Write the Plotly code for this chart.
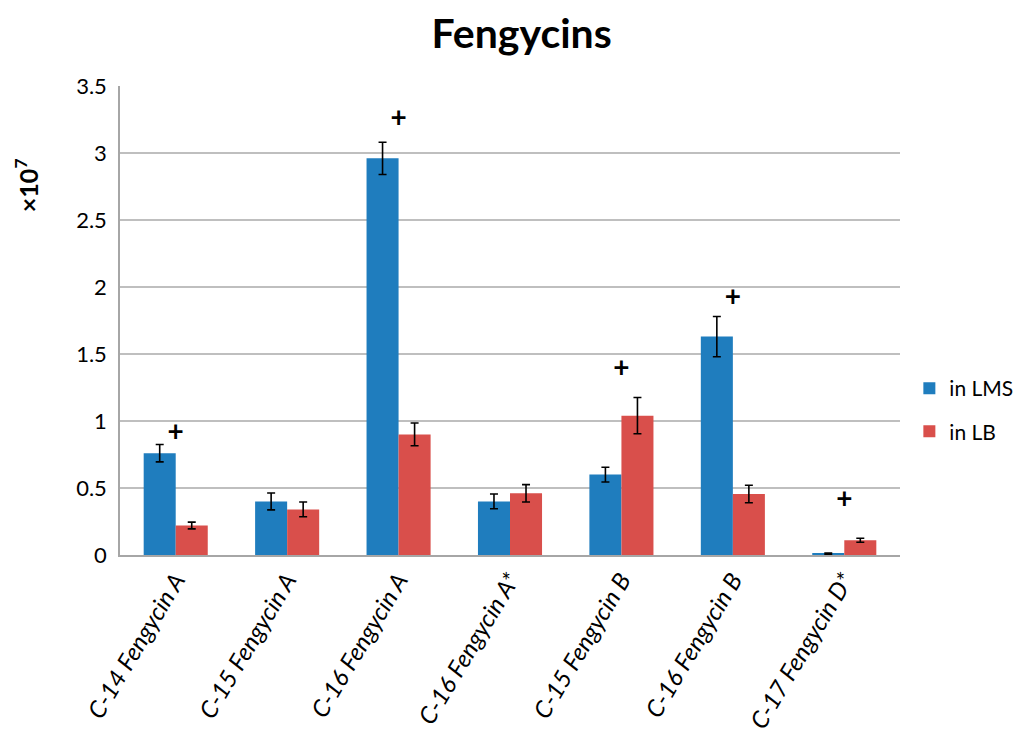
import plotly.graph_objects as go

categories = ["C-14 Fengycin A", "C-15 Fengycin A", "C-16 Fengycin A", "C-16 Fengycin A*",
              "C-15 Fengycin B", "C-16 Fengycin B", "C-17 Fengycin D*"]
lms_values = [0.76, 0.40, 2.96, 0.40, 0.60, 1.63, 0.01]
lms_errors = [0.065, 0.063, 0.12, 0.055, 0.055, 0.15, 0.004]
lb_values = [0.22, 0.34, 0.90, 0.46, 1.04, 0.455, 0.11]
lb_errors = [0.025, 0.055, 0.085, 0.065, 0.135, 0.065, 0.015]
plus_categories = ["C-14 Fengycin A", "C-16 Fengycin A", "C-15 Fengycin B", "C-16 Fengycin B", "C-17 Fengycin D*"]
plus_y = [0.90, 3.25, 1.38, 1.91, 0.40]
y_ticks = [0, 0.5, 1, 1.5, 2, 2.5, 3, 3.5]
y_ticklabels = ["0", "0.5", "1", "1.5", "2", "2.5", "3", "3.5"]

FONT = "Lato, 'Open Sans', sans-serif"
BLUE = "#1F7DBE"
RED = "#D94F4B"

fig = go.Figure()
fig.add_trace(go.Bar(
    x=categories, y=lms_values, name="in LMS", marker=dict(color=BLUE, line=dict(width=0)),
    error_y=dict(type="data", array=lms_errors, color="black", thickness=1.6, width=4),
    legend="legend",
))
fig.add_trace(go.Bar(
    x=categories, y=lb_values, name="in LB", marker=dict(color=RED, line=dict(width=0)),
    error_y=dict(type="data", array=lb_errors, color="black", thickness=1.6, width=4),
    legend="legend2",
))
fig.add_trace(go.Scatter(
    x=plus_categories, y=plus_y, mode="text", text=["<b>+</b>"] * len(plus_y),
    textfont=dict(size=28, color="black", family=FONT), showlegend=False, hoverinfo="skip",
))

fig.update_layout(
    width=1017, height=736,
    margin=dict(l=112, r=125, t=78, b=189, autoexpand=False),
    paper_bgcolor="white", plot_bgcolor="white",
    barmode="group", bargap=0.425, bargroupgap=0,
    font=dict(family=FONT, color="black"),
    title=dict(text="<b>Fengycins</b>", x=0.505, xanchor="center", y=0.985, yanchor="top",
               yref="container", pad=dict(t=0, b=0),
               font=dict(size=41, family=FONT, color="black")),
    legend=dict(x=1.012, y=0.355, xanchor="left", yanchor="middle", bgcolor="rgba(0,0,0,0)",
                font=dict(size=21, family=FONT), itemwidth=30),
    legend2=dict(x=1.012, y=0.263, xanchor="left", yanchor="middle", bgcolor="rgba(0,0,0,0)",
                 font=dict(size=21, family=FONT), itemwidth=30),
    xaxis=dict(
        tickmode="array", tickvals=categories,
        ticktext=["<i>" + c + "</i>" for c in categories],
        tickangle=-59, tickfont=dict(size=24, family=FONT, color="black"),
        showline=True, linecolor="#A6A6A6", linewidth=1.5, ticks="", showgrid=False,
        automargin=False,
    ),
    yaxis=dict(
        range=[0, 3.5], tickmode="array", tickvals=y_ticks, ticktext=y_ticklabels,
        tickfont=dict(size=22, family=FONT, color="black"),
        showgrid=True, gridcolor="#BFBFBF", gridwidth=1.5,
        showline=True, linecolor="#A6A6A6", linewidth=1.5, ticks="", ticklen=0,
        zeroline=False, ticklabelstandoff=7, automargin=False,
    ),
    annotations=[dict(
        text="<b>×10<sup>7</sup></b>", textangle=-90, xref="paper", yref="paper",
        x=-0.119, y=0.789, xanchor="center", yanchor="middle", showarrow=False,
        font=dict(size=25, family=FONT, color="black"),
    )],
)

fig.write_html("out.html")
